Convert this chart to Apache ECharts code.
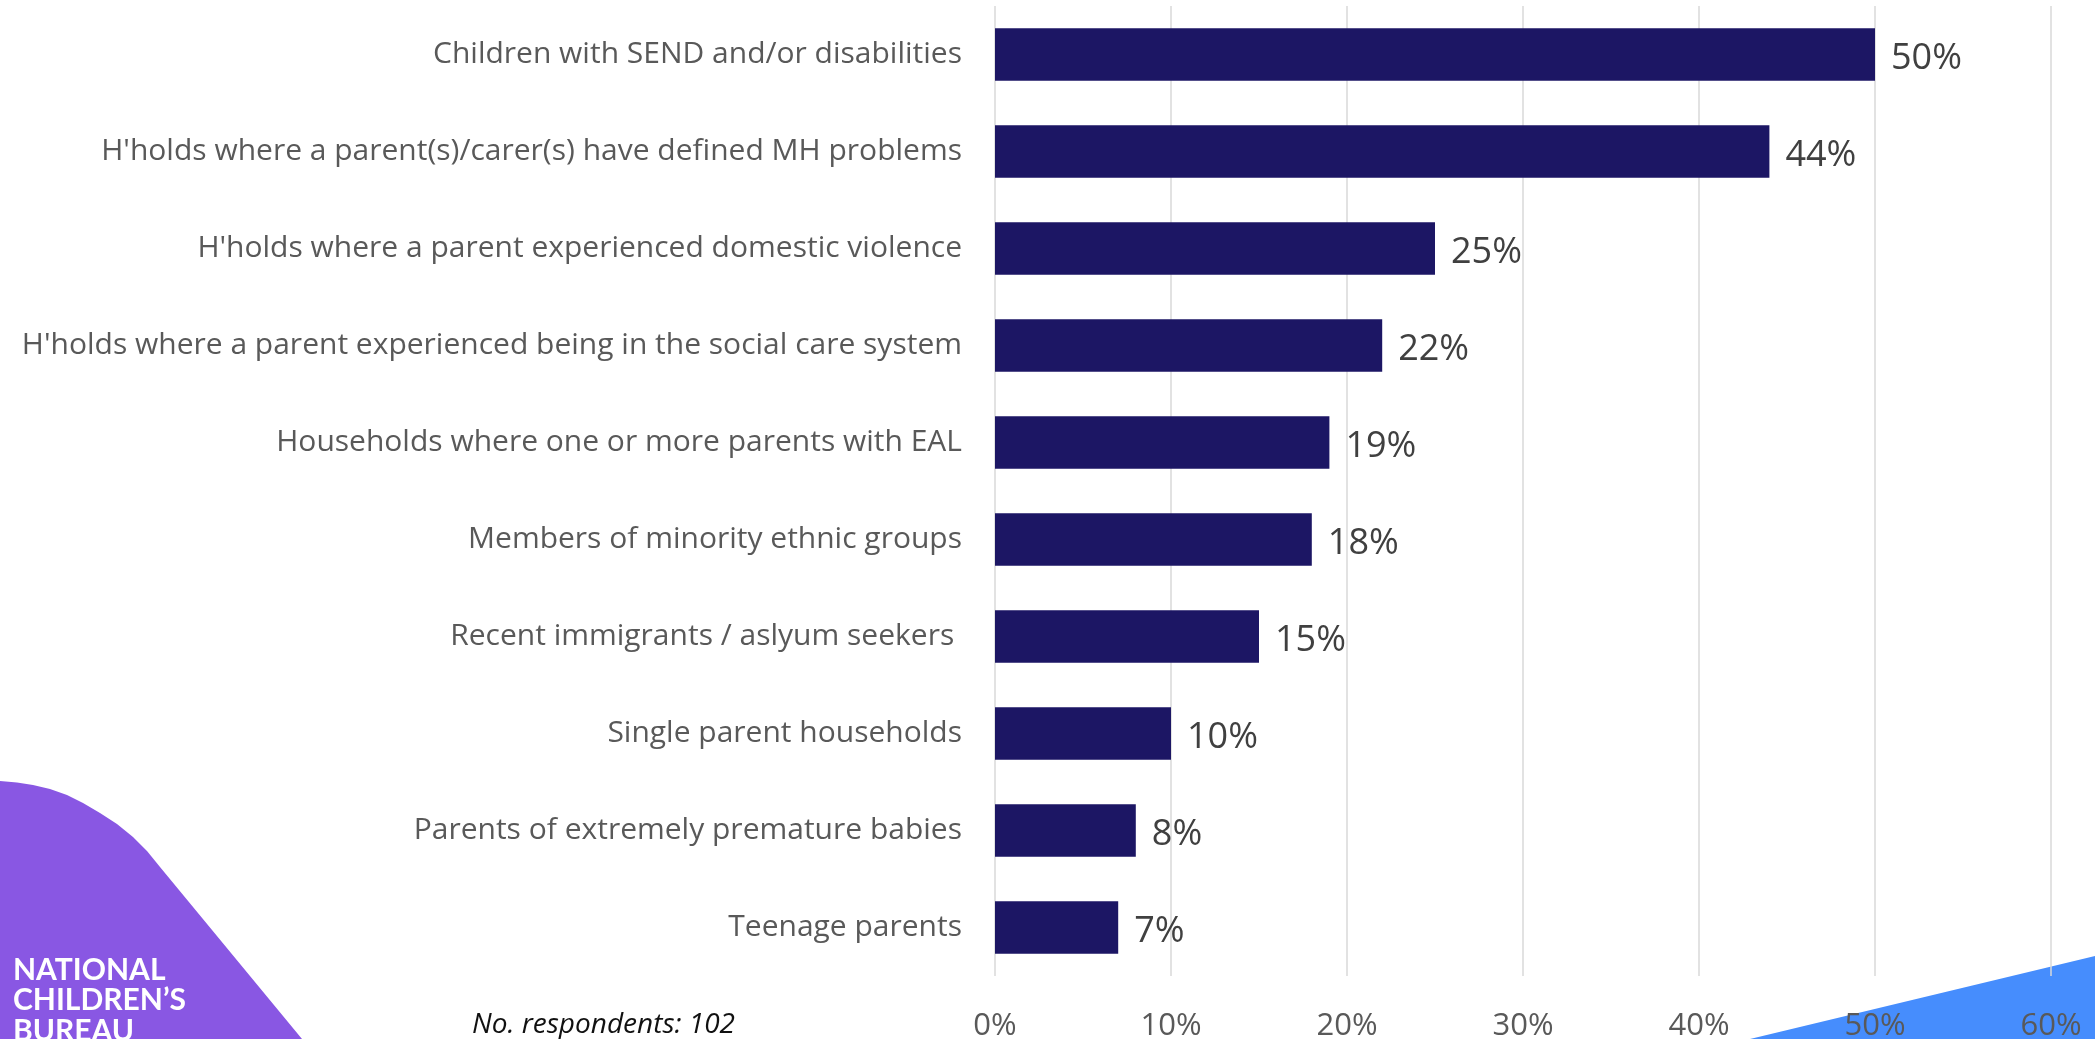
<!DOCTYPE html>
<html>
<head>
<meta charset="utf-8">
<script src="https://cdn.jsdelivr.net/npm/echarts@6/dist/echarts.min.js"></script>
<style>
  html, body { margin: 0; padding: 0; background: #ffffff; }
  #chart { width: 2095px; height: 1039px; }
</style>
</head>
<body>
<div id="chart"></div>
<script>
// Groups supported (share of respondents, %)
const categories = [
  "Children with SEND and/or disabilities",
  "H'holds where a parent(s)/carer(s) have defined MH problems",
  "H'holds where a parent experienced domestic violence",
  "H'holds where a parent experienced being in the social care system",
  "Households where one or more parents with EAL",
  "Members of minority ethnic groups",
  "Recent immigrants / aslyum seekers ",
  "Single parent households",
  "Parents of extremely premature babies",
  "Teenage parents"
];
const shares = [50, 44, 25, 22, 19, 18, 15, 10, 8, 7];
const axisTicks = [0, 10, 20, 30, 40, 50, 60];
const respondentsNote = "No. respondents: 102";
const logoLines = ["NATIONAL", "CHILDREN\u2019S", "BUREAU"];

const FONT = '"Open Sans", "Noto Sans", sans-serif';
const chart = echarts.init(document.getElementById('chart'), null, { renderer: 'canvas' });

chart.setOption({
  backgroundColor: '#ffffff',
  animation: false,
  grid: {
    left: 995, right: 44, top: 6, bottom: 63,
    containLabel: false,
    outerBoundsMode: 'none'
  },
  xAxis: {
    type: 'value',
    min: axisTicks[0],
    max: axisTicks[axisTicks.length - 1],
    interval: axisTicks[1] - axisTicks[0],
    axisLine: { show: false },
    axisTick: { show: false },
    splitLine: { show: true, lineStyle: { color: '#d9d9d9', width: 1.5 } },
    axisLabel: {
      formatter: '{value}%',
      color: '#595959',
      fontFamily: FONT,
      fontSize: 31,
      margin: 35
    }
  },
  yAxis: {
    type: 'category',
    data: categories,
    inverse: true,
    axisLine: { show: false },
    axisTick: { show: false },
    splitLine: { show: false },
    axisLabel: {
      color: '#595959',
      fontFamily: FONT,
      fontSize: 30,
      margin: 33,
      padding: [5, 0, 0, 0]
    }
  },
  series: [{
    type: 'bar',
    data: shares,
    barCategoryGap: '46%',
    itemStyle: { color: '#1c1664' },
    label: {
      show: true,
      position: 'right',
      distance: 16,
      offset: [0, 4],
      formatter: '{c}%',
      color: '#404040',
      fontFamily: FONT,
      fontSize: 36
    }
  }],
  graphic: [
    {
      // purple brand shape, lower left
      type: 'polygon',
      z: -10,
      shape: {
        points: [
          [0, 781], [17, 782.5], [33, 785], [50, 789], [67, 795], [83, 803],
          [100, 813], [117, 824], [133, 837], [147, 851], [160, 867],
          [302, 1039], [0, 1039]
        ]
      },
      style: { fill: '#8957e3' }
    },
    {
      // blue brand wedge, lower right
      type: 'polygon',
      z: -10,
      shape: { points: [[1750, 1039], [2095, 956], [2095, 1039]] },
      style: { fill: '#468dfd' }
    },
    {
      type: 'text',
      z: 20,
      left: 13,
      top: 955,
      style: {
        text: logoLines.join('\n'),
        fill: '#ffffff',
        font: 'bold 30px Lato, "Noto Sans", sans-serif',
        lineHeight: 30.5
      }
    },
    {
      type: 'text',
      z: 20,
      left: 472,
      top: 1011,
      style: {
        text: respondentsNote,
        fill: '#111111',
        font: 'italic 28px "Open Sans", "Noto Sans", sans-serif'
      }
    }
  ]
});
</script>
</body>
</html>
